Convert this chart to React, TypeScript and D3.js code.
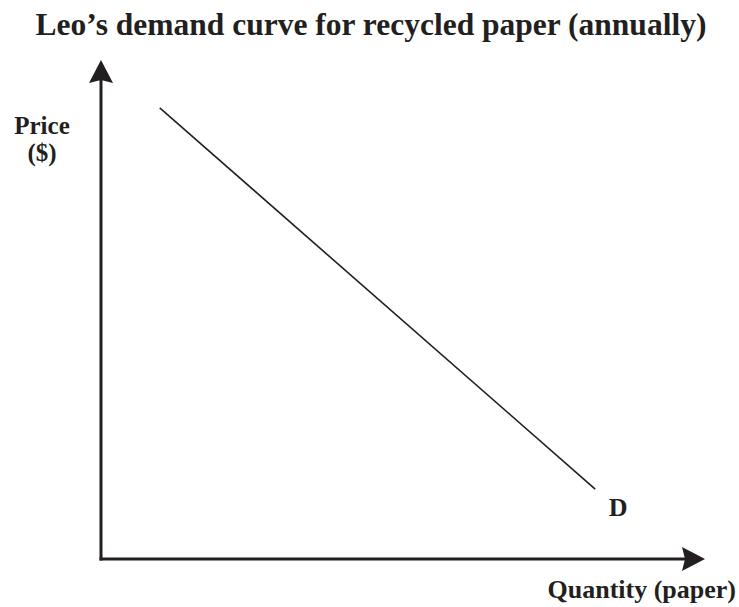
import React, { useEffect, useRef } from 'react';
import * as d3 from 'd3';

const title = 'Leo\u2019s demand curve for recycled paper (annually)';
const quantity = [1.07, 9];
const price = [9.04, 1.4];
const curveLabel = 'D';
const yLabel = ['Price', '($)'];
const xLabel = 'Quantity (paper)';

const App = () => {
  const ref = useRef<SVGSVGElement>(null);

  useEffect(() => {
    const width = 739;
    const height = 607;
    const svg = d3.select(ref.current);
    svg.selectAll('*').remove();

    const font = '"Liberation Serif", "Times New Roman", serif';
    const ink = '#231f20';

    const x = d3.scaleLinear().domain([0, 11]).range([101, 705]);
    const y = d3.scaleLinear().domain([0, 10]).range([559, 60]);

    svg.append('rect').attr('width', width).attr('height', height).attr('fill', '#fff');

    // title
    svg.append('text')
      .attr('x', 371)
      .attr('y', 35)
      .attr('text-anchor', 'middle')
      .attr('font-family', font)
      .attr('font-weight', 'bold')
      .attr('font-size', 31.5)
      .attr('fill', ink)
      .text(title);

    // axes
    const [x0, x1] = x.range();
    const [y0, y1] = y.range();
    svg.append('line')
      .attr('x1', x0).attr('y1', y0 + 1.5)
      .attr('x2', x0).attr('y2', y1 + 15)
      .attr('stroke', ink).attr('stroke-width', 3);
    svg.append('line')
      .attr('x1', x0 - 1.5).attr('y1', y0)
      .attr('x2', x1 - 15).attr('y2', y0)
      .attr('stroke', ink).attr('stroke-width', 3);

    // arrow heads
    svg.append('path')
      .attr('d', `M${x0},${y1} L${x0 + 12},${y1 + 23} L${x0},${y1 + 20} L${x0 - 12},${y1 + 23} Z`)
      .attr('fill', ink);
    svg.append('path')
      .attr('d', `M${x1},${y0} L${x1 - 23},${y0 - 12} L${x1 - 20},${y0} L${x1 - 23},${y0 + 12} Z`)
      .attr('fill', ink);

    // demand line
    const pts = quantity.map((q, i) => [q, price[i]] as [number, number]);
    const line = d3.line<[number, number]>().x(d => x(d[0])).y(d => y(d[1]));
    svg.append('path')
      .datum(pts)
      .attr('d', line)
      .attr('fill', 'none')
      .attr('stroke', ink)
      .attr('stroke-width', 1.6);

    const last = pts[pts.length - 1];
    svg.append('text')
      .attr('x', x(last[0]) + 23)
      .attr('y', y(last[1]) + 27)
      .attr('text-anchor', 'middle')
      .attr('font-family', font)
      .attr('font-weight', 'bold')
      .attr('font-size', 26)
      .attr('fill', ink)
      .text(curveLabel);

    // axis labels
    yLabel.forEach((t, i) => {
      svg.append('text')
        .attr('x', 42)
        .attr('y', 134 + i * 27)
        .attr('text-anchor', 'middle')
        .attr('font-family', font)
        .attr('font-weight', 'bold')
        .attr('font-size', 25)
        .attr('fill', ink)
        .text(t);
    });

    svg.append('text')
      .attr('x', 736)
      .attr('y', 598)
      .attr('text-anchor', 'end')
      .attr('font-family', font)
      .attr('font-weight', 'bold')
      .attr('font-size', 26)
      .attr('fill', ink)
      .text(xLabel);
  }, []);

  return (
    <svg
      ref={ref}
      width={739}
      height={607}
      style={{ position: 'absolute', left: 0, top: 0, display: 'block' }}
    />
  );
};

export default App;
